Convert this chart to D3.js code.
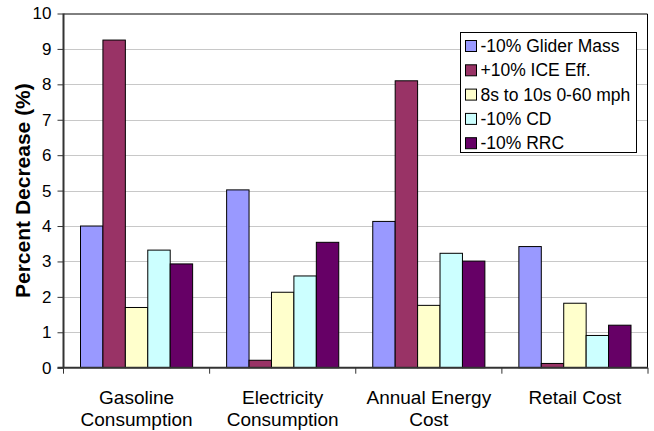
<!DOCTYPE html>
<html>
<head>
<meta charset="utf-8">
<script src="https://cdn.jsdelivr.net/npm/d3@7"></script>
<style>
  html, body { margin: 0; padding: 0; background: #fff; }
  svg { display: block; font-family: "Liberation Sans", Arial, sans-serif; }
</style>
</head>
<body>
<svg id="chart" width="654" height="431"></svg>
<script>
// Categories (two-line labels split on "\n")
const categories = ["Gasoline\nConsumption", "Electricity\nConsumption", "Annual Energy\nCost", "Retail Cost"];

// Series names and percent-decrease values per category
const seriesNames = ["-10% Glider Mass", "+10% ICE Eff.", "8s to 10s 0-60 mph", "-10% CD", "-10% RRC"];
const gliderMass = [4.00, 5.02, 4.13, 3.42];
const iceEff     = [9.25, 0.21, 8.10, 0.12];
const accel      = [1.70, 2.13, 1.76, 1.82];
const dragCoef   = [3.32, 2.59, 3.23, 0.91];
const rollRes    = [2.93, 3.54, 3.01, 1.20];
const seriesColors = ["#9999FF", "#993366", "#FFFFCC", "#CCFFFF", "#660066"];

const yTicks = [0, 1, 2, 3, 4, 5, 6, 7, 8, 9, 10];

const seriesValues = [gliderMass, iceEff, accel, dragCoef, rollRes];

const plot = { left: 63.5, right: 648, top: 13.5, bottom: 367.7 };

const svg = d3.select("#chart");

const x = d3.scaleBand()
  .domain(categories)
  .range([plot.left, plot.right])
  .paddingInner(0).paddingOuter(0);

const groupPad = 17;
const xInner = d3.scaleBand()
  .domain(seriesNames)
  .range([groupPad, x.bandwidth() - groupPad])
  .paddingInner(0).paddingOuter(0);

const y = d3.scaleLinear().domain([0, 10]).range([plot.bottom, plot.top]);

// Horizontal gridlines
svg.append("g")
  .selectAll("line")
  .data(yTicks.filter(d => d > 0 && d < 10))
  .join("line")
  .attr("x1", plot.left).attr("x2", plot.right)
  .attr("y1", d => Math.round(y(d)) + 0.5).attr("y2", d => Math.round(y(d)) + 0.5)
  .attr("stroke", "#c8c8c8").attr("stroke-width", 1);

// Top and right frame
svg.append("path")
  .attr("d", `M${plot.left},${plot.top + 0.5}H${plot.right - 0.5}V${plot.bottom}`)
  .attr("fill", "none").attr("stroke", "#000").attr("stroke-width", 1);

// Bars
const groups = svg.append("g")
  .selectAll("g")
  .data(categories)
  .join("g")
  .attr("transform", d => `translate(${x(d)},0)`);

groups.selectAll("rect")
  .data((c, ci) => seriesNames.map((s, si) => ({ s, si, v: seriesValues[si][ci] })))
  .join("rect")
  .attr("x", d => xInner(d.s))
  .attr("width", xInner.bandwidth())
  .attr("y", d => y(d.v))
  .attr("height", d => y(0) - y(d.v))
  .attr("fill", d => seriesColors[d.si])
  .attr("stroke", "#000").attr("stroke-width", 1);

// Y axis
const yAxis = svg.append("g")
  .attr("transform", `translate(${plot.left},0)`)
  .call(d3.axisLeft(y).tickValues(yTicks).tickSize(6).tickPadding(6).tickFormat(d3.format("d")));
yAxis.select(".domain").attr("stroke", "#333").attr("stroke-width", 2).attr("d", `M0,${plot.top}V${plot.bottom}`);
yAxis.selectAll(".tick line").attr("stroke", "#333");
yAxis.selectAll(".tick text")
  .attr("font-size", 17).attr("fill", "#000")
  .attr("font-family", "Liberation Sans, Arial, sans-serif");

// X axis with ticks at category boundaries
const xAxis = svg.append("g")
  .attr("transform", `translate(0,${plot.bottom})`);
xAxis.append("line")
  .attr("x1", plot.left - 6).attr("x2", plot.right)
  .attr("y1", 0).attr("y2", 0)
  .attr("stroke", "#333").attr("stroke-width", 2);
xAxis.selectAll("line.tick")
  .data(categories.map(c => x(c)).concat([plot.right]))
  .join("line")
  .attr("class", "tick")
  .attr("x1", d => d).attr("x2", d => d)
  .attr("y1", 0).attr("y2", 6)
  .attr("stroke", "#333").attr("stroke-width", 1);

xAxis.selectAll("text")
  .data(categories)
  .join("text")
  .attr("x", d => x(d) + x.bandwidth() / 2)
  .attr("y", 36)
  .attr("text-anchor", "middle")
  .attr("font-size", 19)
  .attr("fill", "#000")
  .each(function (d) {
    d.split("\n").forEach((line, i) => {
      d3.select(this).append("tspan")
        .attr("x", x(d) + x.bandwidth() / 2)
        .attr("dy", i === 0 ? 0 : 22)
        .text(line);
    });
  });

// Y axis title
svg.append("text")
  .attr("transform", `translate(30,${(plot.top + plot.bottom) / 2}) rotate(-90)`)
  .attr("text-anchor", "middle")
  .attr("font-size", 21)
  .attr("font-weight", "bold")
  .text("Percent Decrease (%)");

// Legend
const legend = svg.append("g").attr("transform", "translate(460.5,32.5)");
legend.append("rect")
  .attr("width", 176).attr("height", 120)
  .attr("fill", "#fff").attr("stroke", "#000").attr("stroke-width", 1);
const items = legend.selectAll("g.item")
  .data(seriesNames)
  .join("g")
  .attr("class", "item")
  .attr("transform", (d, i) => `translate(5,${8 + i * 24.3})`);
items.append("rect")
  .attr("width", 11).attr("height", 11)
  .attr("fill", (d, i) => seriesColors[i])
  .attr("stroke", "#000").attr("stroke-width", 1);
items.append("text")
  .attr("x", 15).attr("y", 11.5)
  .attr("font-size", 17.5)
  .text(d => d);
</script>
</body>
</html>
